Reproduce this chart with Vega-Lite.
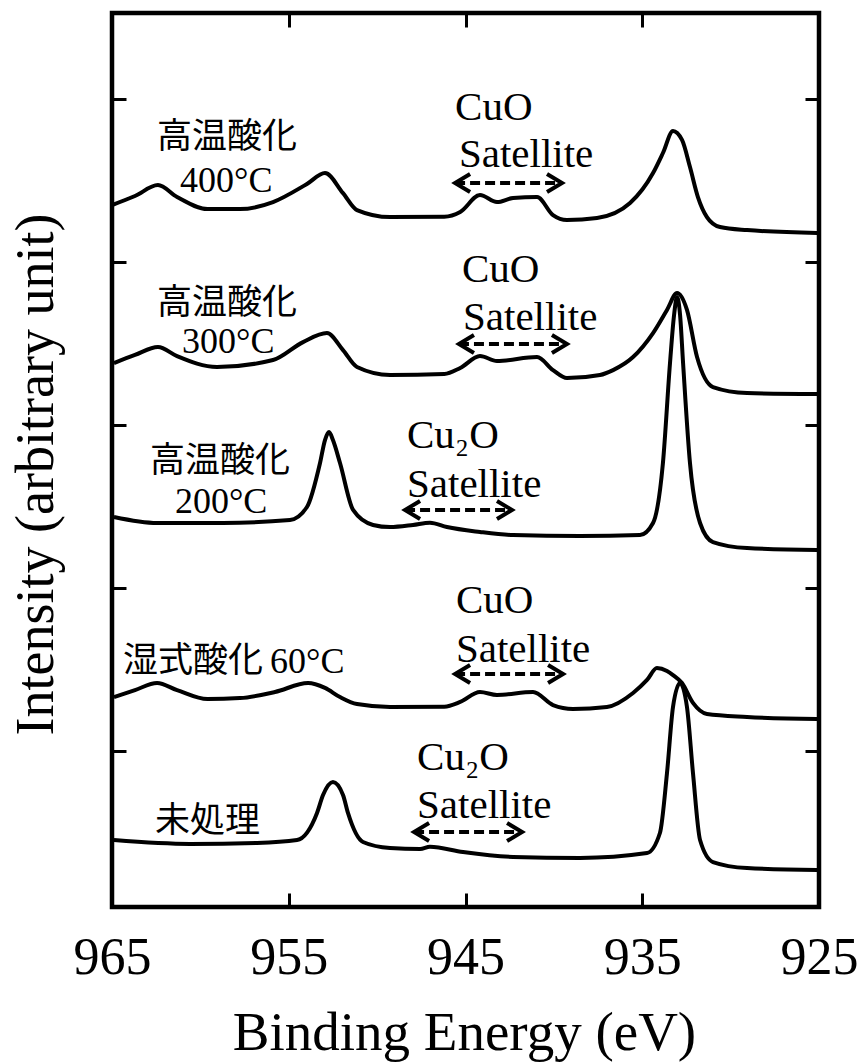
{
  "$schema": "https://vega.github.io/schema/vega-lite/v6.json",
  "width": 707,
  "height": 894,
  "autosize": {"type": "none"},
  "padding": {"left": 112, "top": 13, "right": 49, "bottom": 156},
  "background": "white",
  "config": {"view": {"stroke": "black", "strokeWidth": 4.5}},
  "datasets": {
    "spectra": [
      {"s": "400", "E": 965.0, "I": 4.347}, {"s": "400", "E": 963.7, "I": 4.402}, {"s": "400", "E": 962.4, "I": 4.469}, {"s": "400", "E": 961.32, "I": 4.396}, {"s": "400", "E": 959.6, "I": 4.322}, {"s": "400", "E": 957.76, "I": 4.322}, {"s": "400", "E": 955.89, "I": 4.365}, {"s": "400", "E": 953.97, "I": 4.476}, {"s": "400", "E": 952.95, "I": 4.543}, {"s": "400", "E": 951.93, "I": 4.42}, {"s": "400", "E": 951.14, "I": 4.316}, {"s": "400", "E": 949.27, "I": 4.273}, {"s": "400", "E": 946.2, "I": 4.275}, {"s": "400", "E": 945.3, "I": 4.304}, {"s": "400", "E": 944.18, "I": 4.408}, {"s": "400", "E": 943.22, "I": 4.365}, {"s": "400", "E": 942.31, "I": 4.39}, {"s": "400", "E": 940.95, "I": 4.396}, {"s": "400", "E": 940.05, "I": 4.285}, {"s": "400", "E": 939.26, "I": 4.255}, {"s": "400", "E": 937.56, "I": 4.267}, {"s": "400", "E": 935.69, "I": 4.359}, {"s": "400", "E": 934.39, "I": 4.543}, {"s": "400", "E": 933.83, "I": 4.666}, {"s": "400", "E": 933.26, "I": 4.801}, {"s": "400", "E": 932.75, "I": 4.746}, {"s": "400", "E": 932.3, "I": 4.58}, {"s": "400", "E": 931.85, "I": 4.396}, {"s": "400", "E": 931.34, "I": 4.273}, {"s": "400", "E": 930.6, "I": 4.212}, {"s": "400", "E": 929.07, "I": 4.193}, {"s": "400", "E": 925.1, "I": 4.175},

      {"s": "300", "E": 964.89, "I": 3.377}, {"s": "300", "E": 963.7, "I": 3.427}, {"s": "300", "E": 962.4, "I": 3.476}, {"s": "300", "E": 961.32, "I": 3.42}, {"s": "300", "E": 959.06, "I": 3.353}, {"s": "300", "E": 955.89, "I": 3.396}, {"s": "300", "E": 954.19, "I": 3.506}, {"s": "300", "E": 952.84, "I": 3.561}, {"s": "300", "E": 951.93, "I": 3.457}, {"s": "300", "E": 951.14, "I": 3.353}, {"s": "300", "E": 949.27, "I": 3.304}, {"s": "300", "E": 946.2, "I": 3.31}, {"s": "300", "E": 945.3, "I": 3.347}, {"s": "300", "E": 944.18, "I": 3.42}, {"s": "300", "E": 943.22, "I": 3.39}, {"s": "300", "E": 940.95, "I": 3.414}, {"s": "300", "E": 940.05, "I": 3.334}, {"s": "300", "E": 939.26, "I": 3.285}, {"s": "300", "E": 937.39, "I": 3.304}, {"s": "300", "E": 936.65, "I": 3.334}, {"s": "300", "E": 935.52, "I": 3.414}, {"s": "300", "E": 934.39, "I": 3.561}, {"s": "300", "E": 933.6, "I": 3.703}, {"s": "300", "E": 933.03, "I": 3.807}, {"s": "300", "E": 932.47, "I": 3.703}, {"s": "300", "E": 931.9, "I": 3.414}, {"s": "300", "E": 931.0, "I": 3.23}, {"s": "300", "E": 929.07, "I": 3.193}, {"s": "300", "E": 925.1, "I": 3.187},

      {"s": "200", "E": 964.89, "I": 2.433}, {"s": "200", "E": 962.45, "I": 2.396}, {"s": "200", "E": 958.72, "I": 2.396}, {"s": "200", "E": 954.93, "I": 2.414}, {"s": "200", "E": 953.97, "I": 2.494}, {"s": "200", "E": 953.23, "I": 2.764}, {"s": "200", "E": 952.95, "I": 2.905}, {"s": "200", "E": 952.72, "I": 2.954}, {"s": "200", "E": 952.5, "I": 2.905}, {"s": "200", "E": 952.1, "I": 2.764}, {"s": "200", "E": 951.36, "I": 2.476}, {"s": "200", "E": 950.23, "I": 2.384}, {"s": "200", "E": 949.27, "I": 2.371}, {"s": "200", "E": 947.97, "I": 2.384}, {"s": "200", "E": 947.01, "I": 2.398}, {"s": "200", "E": 946.05, "I": 2.371}, {"s": "200", "E": 944.18, "I": 2.341}, {"s": "200", "E": 942.31, "I": 2.322}, {"s": "200", "E": 938.52, "I": 2.316}, {"s": "200", "E": 935.13, "I": 2.322}, {"s": "200", "E": 934.39, "I": 2.396}, {"s": "200", "E": 933.83, "I": 2.764}, {"s": "200", "E": 933.43, "I": 3.377}, {"s": "200", "E": 933.2, "I": 3.672}, {"s": "200", "E": 933.03, "I": 3.782}, {"s": "200", "E": 932.86, "I": 3.672}, {"s": "200", "E": 932.69, "I": 3.377}, {"s": "200", "E": 932.3, "I": 2.764}, {"s": "200", "E": 931.73, "I": 2.396}, {"s": "200", "E": 931.0, "I": 2.279}, {"s": "200", "E": 929.07, "I": 2.242}, {"s": "200", "E": 925.1, "I": 2.23},

      {"s": "60", "E": 964.89, "I": 1.328}, {"s": "60", "E": 963.7, "I": 1.371}, {"s": "60", "E": 962.45, "I": 1.414}, {"s": "60", "E": 961.32, "I": 1.371}, {"s": "60", "E": 959.6, "I": 1.316}, {"s": "60", "E": 957.76, "I": 1.322}, {"s": "60", "E": 955.78, "I": 1.359}, {"s": "60", "E": 953.91, "I": 1.414}, {"s": "60", "E": 952.95, "I": 1.384}, {"s": "60", "E": 952.1, "I": 1.328}, {"s": "60", "E": 951.14, "I": 1.285}, {"s": "60", "E": 949.27, "I": 1.267}, {"s": "60", "E": 946.2, "I": 1.269}, {"s": "60", "E": 945.3, "I": 1.298}, {"s": "60", "E": 944.18, "I": 1.359}, {"s": "60", "E": 943.22, "I": 1.341}, {"s": "60", "E": 941.18, "I": 1.359}, {"s": "60", "E": 940.05, "I": 1.279}, {"s": "60", "E": 938.92, "I": 1.255}, {"s": "60", "E": 937.0, "I": 1.267}, {"s": "60", "E": 935.52, "I": 1.353}, {"s": "60", "E": 934.73, "I": 1.433}, {"s": "60", "E": 934.17, "I": 1.506}, {"s": "60", "E": 933.6, "I": 1.488}, {"s": "60", "E": 933.26, "I": 1.463}, {"s": "60", "E": 932.75, "I": 1.414}, {"s": "60", "E": 932.13, "I": 1.292}, {"s": "60", "E": 931.34, "I": 1.224}, {"s": "60", "E": 929.07, "I": 1.206}, {"s": "60", "E": 925.1, "I": 1.193},

      {"s": "raw", "E": 964.89, "I": 0.451}, {"s": "raw", "E": 960.59, "I": 0.427}, {"s": "raw", "E": 956.8, "I": 0.433}, {"s": "raw", "E": 954.53, "I": 0.451}, {"s": "raw", "E": 953.4, "I": 0.617}, {"s": "raw", "E": 953.06, "I": 0.727}, {"s": "raw", "E": 952.5, "I": 0.807}, {"s": "raw", "E": 951.93, "I": 0.727}, {"s": "raw", "E": 951.65, "I": 0.617}, {"s": "raw", "E": 950.8, "I": 0.439}, {"s": "raw", "E": 949.27, "I": 0.402}, {"s": "raw", "E": 947.57, "I": 0.396}, {"s": "raw", "E": 947.01, "I": 0.41}, {"s": "raw", "E": 945.14, "I": 0.377}, {"s": "raw", "E": 942.31, "I": 0.347}, {"s": "raw", "E": 938.52, "I": 0.341}, {"s": "raw", "E": 934.73, "I": 0.371}, {"s": "raw", "E": 934.0, "I": 0.494}, {"s": "raw", "E": 933.6, "I": 0.862}, {"s": "raw", "E": 933.26, "I": 1.267}, {"s": "raw", "E": 932.86, "I": 1.414}, {"s": "raw", "E": 932.47, "I": 1.267}, {"s": "raw", "E": 932.13, "I": 0.862}, {"s": "raw", "E": 931.73, "I": 0.451}, {"s": "raw", "E": 931.0, "I": 0.316}, {"s": "raw", "E": 929.07, "I": 0.279}, {"s": "raw", "E": 925.1, "I": 0.267}
    ],
    "arrows": [
      {"e1": 945.59, "e2": 939.54, "I": 4.482},
      {"e1": 945.37, "e2": 939.26, "I": 3.494},
      {"e1": 948.42, "e2": 942.37, "I": 2.476},
      {"e1": 945.59, "e2": 939.48, "I": 1.469},
      {"e1": 947.91, "e2": 941.8, "I": 0.5}
    ],
    "serif": [
      {"t": "CuO", "E": 945.59, "I": 4.868},
      {"t": "Satellite", "E": 945.37, "I": 4.58},
      {"t": "CuO", "E": 945.2, "I": 3.874},
      {"t": "Satellite", "E": 945.14, "I": 3.58},
      {"t": "Cu₂O", "E": 948.31, "I": 2.856},
      {"t": "Satellite", "E": 948.31, "I": 2.555},
      {"t": "CuO", "E": 945.54, "I": 1.844},
      {"t": "Satellite", "E": 945.54, "I": 1.543},
      {"t": "Cu₂O", "E": 947.74, "I": 0.88},
      {"t": "Satellite", "E": 947.74, "I": 0.586}
    ],
    "temps": [
      {"t": "400°C", "E": 961.15, "I": 4.427},
      {"t": "300°C", "E": 961.04, "I": 3.439},
      {"t": "200°C", "E": 961.44, "I": 2.457},
      {"t": "60°C", "E": 956.06, "I": 1.476}
    ],
    "cjk": [
      {"t": "高温酸化", "E": 962.45, "I": 4.764},
      {"t": "高温酸化", "E": 962.45, "I": 3.746},
      {"t": "高温酸化", "E": 962.85, "I": 2.776},
      {"t": "湿式酸化", "E": 964.38, "I": 1.549},
      {"t": "未処理", "E": 962.57, "I": 0.568}
    ]
  },
  "layer": [
    {
      "data": {"name": "spectra"},
      "mark": {"type": "line", "interpolate": "monotone", "color": "black", "strokeWidth": 4, "strokeJoin": "round"},
      "encoding": {
        "x": {"field": "E", "type": "quantitative", "scale": {"domain": [925, 965], "reverse": true, "nice": false, "zero": false},
          "axis": {"orient": "bottom", "values": [965, 955, 945, 935, 925], "format": "d", "labelFont": "Liberation Serif", "labelFontSize": 52, "labelColor": "black", "labelFlush": false, "labelOverlap": false, "labelBaseline": "alphabetic", "labelPadding": 80, "tickSize": -14, "tickWidth": 3, "tickColor": "black", "domain": false, "grid": false, "title": "Binding Energy (eV)", "titleFont": "Liberation Serif", "titleFontSize": 55, "titleFontWeight": "normal", "titleColor": "black", "titleX": 352, "titleY": 142, "titleBaseline": "alphabetic", "titleAlign": "center"}},
        "y": {"field": "I", "type": "quantitative", "scale": {"domain": [0.04, 5.525], "nice": false, "zero": false},
          "axis": {"orient": "left", "values": [1, 2, 3, 4, 5], "labels": false, "tickSize": -14, "tickWidth": 3, "tickColor": "black", "domain": false, "grid": false, "title": "Intensity (arbitrary unit)", "titleFont": "Liberation Serif", "titleFontSize": 54, "titleFontWeight": "normal", "titleColor": "black", "titleAngle": 270, "titleX": -60, "titleY": 461, "titleBaseline": "alphabetic", "titleAlign": "center"}},
        "detail": {"field": "s"}
      }
    },
    {
      "data": {"name": "arrows"},
      "mark": {"type": "rule", "strokeDash": [10, 5], "strokeWidth": 4, "color": "black"},
      "encoding": {
        "x": {"field": "e1", "type": "quantitative", "scale": {"domain": [925, 965], "reverse": true, "nice": false, "zero": false},
          "axis": {"orient": "top", "values": [955, 945, 935], "labels": false, "tickSize": -14, "tickWidth": 3, "tickColor": "black", "domain": false, "grid": false, "title": null}},
        "x2": {"field": "e2"},
        "y": {"field": "I", "type": "quantitative", "scale": {"domain": [0.04, 5.525], "nice": false, "zero": false},
          "axis": {"orient": "right", "values": [1, 2, 3, 4, 5], "labels": false, "tickSize": -14, "tickWidth": 3, "tickColor": "black", "domain": false, "grid": false, "title": null}}
      }
    },
    {
      "data": {"name": "arrows"},
      "mark": {"type": "point", "shape": "M 2 -1.2 L 0 0 L 2 1.2", "filled": false, "size": 225, "strokeWidth": 4, "color": "black", "opacity": 1},
      "encoding": {
        "x": {"field": "e1", "type": "quantitative", "scale": {"domain": [925, 965], "reverse": true, "nice": false, "zero": false}, "axis": null},
        "y": {"field": "I", "type": "quantitative", "scale": {"domain": [0.04, 5.525], "nice": false, "zero": false}, "axis": null}
      }
    },
    {
      "data": {"name": "arrows"},
      "mark": {"type": "point", "shape": "M -2 -1.2 L 0 0 L -2 1.2", "filled": false, "size": 225, "strokeWidth": 4, "color": "black", "opacity": 1},
      "encoding": {
        "x": {"field": "e2", "type": "quantitative", "scale": {"domain": [925, 965], "reverse": true, "nice": false, "zero": false}, "axis": null},
        "y": {"field": "I", "type": "quantitative", "scale": {"domain": [0.04, 5.525], "nice": false, "zero": false}, "axis": null}
      }
    },
    {
      "data": {"name": "serif"},
      "mark": {"type": "text", "font": "Liberation Serif", "fontSize": 41, "align": "left", "baseline": "alphabetic", "color": "black"},
      "encoding": {
        "x": {"field": "E", "type": "quantitative", "scale": {"domain": [925, 965], "reverse": true, "nice": false, "zero": false}, "axis": null},
        "y": {"field": "I", "type": "quantitative", "scale": {"domain": [0.04, 5.525], "nice": false, "zero": false}, "axis": null},
        "text": {"field": "t"}
      }
    },
    {
      "data": {"name": "temps"},
      "mark": {"type": "text", "font": "Liberation Serif", "fontSize": 36, "align": "left", "baseline": "alphabetic", "color": "black"},
      "encoding": {
        "x": {"field": "E", "type": "quantitative", "scale": {"domain": [925, 965], "reverse": true, "nice": false, "zero": false}, "axis": null},
        "y": {"field": "I", "type": "quantitative", "scale": {"domain": [0.04, 5.525], "nice": false, "zero": false}, "axis": null},
        "text": {"field": "t"}
      }
    },
    {
      "data": {"name": "cjk"},
      "mark": {"type": "text", "font": "Noto Sans CJK JP", "fontSize": 35, "align": "left", "baseline": "middle", "color": "black"},
      "encoding": {
        "x": {"field": "E", "type": "quantitative", "scale": {"domain": [925, 965], "reverse": true, "nice": false, "zero": false}, "axis": null},
        "y": {"field": "I", "type": "quantitative", "scale": {"domain": [0.04, 5.525], "nice": false, "zero": false}, "axis": null},
        "text": {"field": "t"}
      }
    }
  ],
  "resolve": {"scale": {"x": "shared", "y": "shared"}, "axis": {"x": "independent", "y": "independent"}}
}
